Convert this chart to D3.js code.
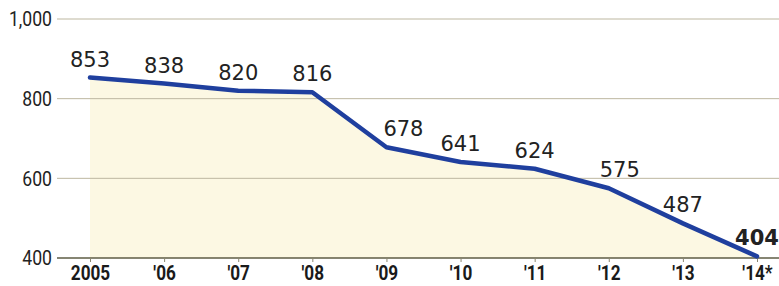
<!DOCTYPE html>
<html><head><meta charset="utf-8">
<script src="https://cdn.jsdelivr.net/npm/d3@7"></script>
<style>
html,body{margin:0;padding:0;background:#fff;}
svg{display:block;}
</style></head>
<body>
<svg id="chart" width="779" height="286"></svg>
<script>
const years = ["2005","'06","'07","'08","'09","'10","'11","'12","'13","'14*"];
const values = [853, 838, 820, 816, 678, 641, 624, 575, 487, 404];
const yTicks = [400, 600, 800, 1000];

const W = 779, H = 286;
const svg = d3.select("#chart");

const x = d3.scalePoint().domain(years).range([90, 757]);
const y = d3.scaleLinear().domain([400, 1000]).range([258, 19]);

const data = years.map((k, i) => ({k, v: values[i]}));

// area fill
svg.append("path")
  .datum(data)
  .attr("fill", "#fcf8e3")
  .attr("d", d3.area().x(d => x(d.k)).y0(y(400)).y1(d => y(d.v)));

// gridlines
svg.append("g").selectAll("line").data(yTicks.filter(t => t !== 400)).join("line")
  .attr("x1", 57).attr("x2", W)
  .attr("y1", d => y(d)).attr("y2", d => y(d))
  .attr("stroke", "#bdb7a0").attr("stroke-width", 1);

// y labels
svg.append("g").selectAll("text").data(yTicks).join("text")
  .attr("transform", d => `translate(52,${y(d)}) scale(0.86,1)`)
  .attr("dy", "0.36em")
  .attr("text-anchor", "end")
  .attr("font-family", "Roboto, sans-serif")
  .attr("font-size", 20.5)
  .attr("fill", "#222")
  .text(d => d3.format(",")(d));

// x axis
const xAxis = svg.append("g").attr("transform", `translate(0,${y(400)})`)
  .call(d3.axisBottom(x).tickSize(4).tickPadding(4));
xAxis.select(".domain").remove();
xAxis.insert("line", ":first-child").attr("x1", 57).attr("x2", W)
  .attr("stroke", "#5e5c45").attr("stroke-width", 1.5);
xAxis.selectAll(".tick line").attr("stroke", "#8a8670").attr("stroke-width", 1);
xAxis.selectAll(".tick text")
  .attr("transform", "scale(0.86,1)")
  .attr("font-family", "Roboto, sans-serif")
  .attr("font-weight", "bold")
  .attr("font-size", 20)
  .attr("fill", "#1a1a1a");

// line
svg.append("path")
  .datum(data)
  .attr("fill", "none")
  .attr("stroke", "#1f3f9e")
  .attr("stroke-width", 4.5)
  .attr("stroke-linejoin", "round")
  .attr("stroke-linecap", "round")
  .attr("d", d3.line().x(d => x(d.k)).y(d => y(d.v)));

// value labels
const nudge = {"'09": 17, "'12": 11, "'14*": 0};
svg.append("g").selectAll("text").data(data).join("text")
  .attr("x", d => x(d.k) + (nudge[d.k] || 0))
  .attr("y", d => y(d.v) - 11)
  .attr("text-anchor", "middle")
  .attr("font-family", "'DejaVu Sans',sans-serif")
  .attr("font-size", 21)
  .attr("font-weight", (d, i) => i === data.length - 1 ? "bold" : "normal")
  .attr("fill", "#222")
  .text(d => d.v);
</script>
</body></html>
